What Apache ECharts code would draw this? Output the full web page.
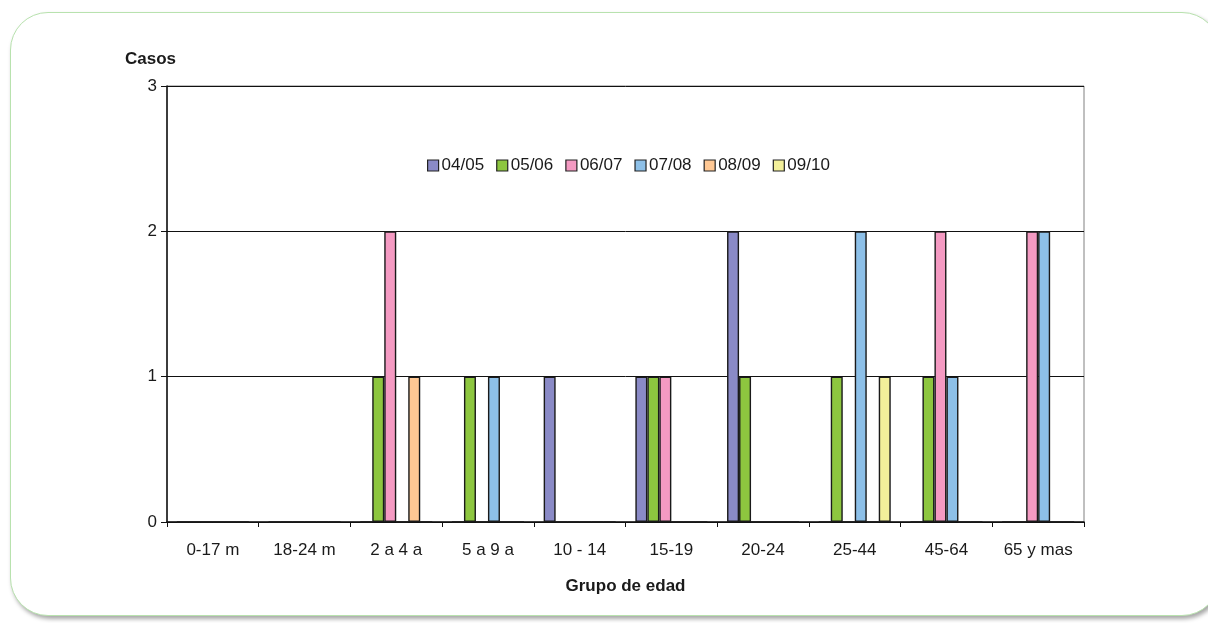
<!DOCTYPE html>
<html>
<head>
<meta charset="utf-8">
<script src="https://cdn.jsdelivr.net/npm/echarts@6/dist/echarts.min.js"></script>
<style>
  html, body { margin: 0; padding: 0; background: #ffffff; }
  #frame {
    position: absolute; left: 10px; top: 12px; width: 1210px; height: 604px;
    border: 1px solid #b8e2ae; border-radius: 38px; box-sizing: border-box;
    box-shadow: 2px 3px 4px rgba(0,0,0,0.35); background: #ffffff;
  }
  #chart { position: absolute; left: 0; top: 0; width: 1208px; height: 623px; }
</style>
</head>
<body>
<div id="frame"></div>
<div id="chart"></div>
<script>
// Age groups on the category axis
const categories = ['0-17 m', '18-24 m', '2 a 4 a', '5 a 9 a', '10 - 14', '15-19', '20-24', '25-44', '45-64', '65 y mas'];
// Seasons
const seasons = ['04/05', '05/06', '06/07', '07/08', '08/09', '09/10'];
// Cases per age group, one array per season
const s0405 = [0, 0, 0, 0, 1, 1, 2, 0, 0, 0];
const s0506 = [0, 0, 1, 1, 0, 1, 1, 1, 1, 0];
const s0607 = [0, 0, 2, 0, 0, 1, 0, 0, 2, 2];
const s0708 = [0, 0, 0, 1, 0, 0, 0, 2, 1, 2];
const s0809 = [0, 0, 1, 0, 0, 0, 0, 0, 0, 0];
const s0910 = [0, 0, 0, 0, 0, 0, 0, 1, 0, 0];
const yTicks = [0, 1, 2, 3];

const seriesData = [s0405, s0506, s0607, s0708, s0809, s0910];
const colors = ['#8a8ac6', '#8dc63f', '#f49ac2', '#8dc0e8', '#ffc894', '#f3f09a'];
const font = 'Liberation Sans, Arial, sans-serif';
const txt = '#1a1a1a';

const chart = echarts.init(document.getElementById('chart'), null, { renderer: 'canvas' });
chart.setOption({
  backgroundColor: 'transparent',
  animation: false,
  color: colors,
  textStyle: { fontFamily: font },
  grid: {
    left: 167, right: 124, top: 86, bottom: 101,
    show: true, borderColor: '#808080', borderWidth: 1, backgroundColor: 'transparent'
  },
  legend: {
    data: seasons,
    left: 422, top: 152,
    itemWidth: 11, itemHeight: 11, itemGap: 12,
    icon: 'rect',
    itemStyle: { borderColor: '#222', borderWidth: 1.2 },
    textStyle: { fontSize: 17, color: txt, fontFamily: font, padding: [0, 0, 0, -2] }
  },
  graphic: [
    { type: 'text', left: 125, top: 51,
      style: { text: 'Casos', font: 'bold 17px ' + font, fill: txt } }
  ],
  xAxis: {
    type: 'category',
    data: categories,
    name: 'Grupo de edad',
    nameLocation: 'middle',
    nameGap: 56,
    nameTextStyle: { fontSize: 17, fontWeight: 'bold', color: txt, fontFamily: font },
    axisLine: { lineStyle: { color: '#111', width: 1.5 } },
    axisTick: { show: true, alignWithLabel: false, length: 5, lineStyle: { color: '#111' } },
    axisLabel: { fontSize: 17, color: txt, margin: 20, fontFamily: font, interval: 0 },
    splitLine: { show: false }
  },
  yAxis: {
    type: 'value',
    min: yTicks[0], max: yTicks[yTicks.length - 1], interval: 1,
    axisLine: { show: true, lineStyle: { color: '#111', width: 1.5 } },
    axisTick: { show: true, length: 6, lineStyle: { color: '#111' } },
    axisLabel: { fontSize: 17, color: txt, margin: 10, fontFamily: font },
    splitLine: { show: true, lineStyle: { color: '#111', width: 1 } }
  },
  series: seasons.map((name, i) => ({
    name: name,
    type: 'bar',
    data: seriesData[i],
    barGap: '0%',
    barCategoryGap: '21.5%',
    itemStyle: { color: colors[i], borderColor: '#1a1a1a', borderWidth: 1.4 }
  }))
});
</script>
</body>
</html>
